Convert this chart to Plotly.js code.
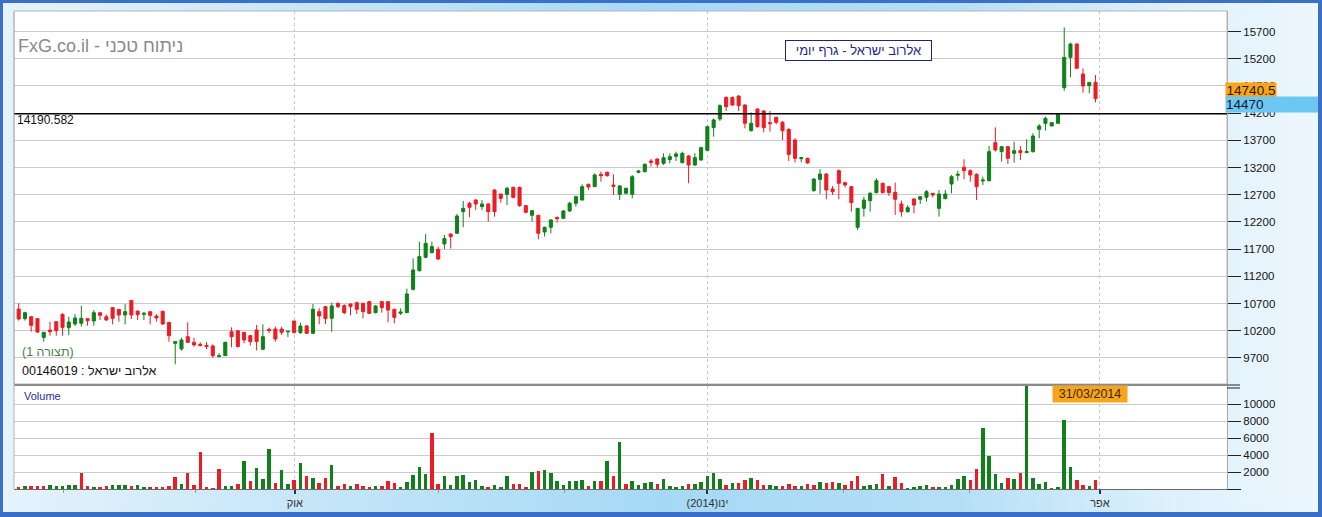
<!DOCTYPE html>
<html><head><meta charset="utf-8">
<script src="https://cdn.plot.ly/plotly-3.0.1.min.js"></script>
<style>
html,body{margin:0;padding:0;background:#fff;}
#chart{position:absolute;left:0;top:0;width:1322px;height:517px;
background:linear-gradient(to right,#e6f3fc 0%,#c4e5f8 25%,#a6d9f5 50%,#b4def6 72%,#dcf0fb 88%,#eef7fe 100%);}
#frame{position:absolute;left:0;top:0;width:1322px;height:517px;box-sizing:border-box;border:3px solid #3a70c8;border-bottom-width:5px;border-right-width:4px;pointer-events:none;z-index:5;}
</style></head>
<body><div id="chart"></div><div id="frame"></div>
<script>
// ---- data (daily candles, oldest first) ----
const openP = [10599,10422,10458,10422,10078,10213,10366,10501,10256,10324,10336,10422,10379,10532,10458,10624,10593,10489,10758,10563,10501,10550,10470,10556,10354,9969,9865,10091,9987,9950,9930,9920,9725,9742,10183,10201,10171,10110,10214,9858,10226,10232,10232,10180,
10379,10165,10287,10153,10551,10643,10428,10704,10661,10692,10716,10704,10735,10532,10735,10735,10594,10520,10532,10961,11304,11550,11635,11697,11795,11978,11991,12389,12542,12603,12481,12530,12787,12714,12707,12836,12836,12499,12322,12322,12015,12101,12285,12266,
12401,12542,12603,12891,12848,13075,13112,12879,12707,12726,12707,13112,13124,13320,13357,13277,13345,13406,13289,13412,13246,13338,13516,13933,14092,14490,14490,14515,14349,13878,14276,14239,14025,14123,14031,13902,13706,13363,13369,
12775,12983,13081,12806,13142,12922,12848,12101,12450,12591,12738,12910,12848,12744,12530,12389,12622,12616,12652,12726,12450,12628,12897,13057,13204,13142,13075,12953,12959,13657,13492,13583,13461,13510,13473,13492,13902,14012,13963,14012,
14667,15225,15470,14918,14704,14765];
const highP = [10704,10550,10470,10430,10180,10366,10379,10520,10458,10507,10655,10422,10581,10532,10501,10636,10593,10691,10758,10563,10544,10563,10507,10569,10354,10012,10073,10355,10073,9987,9990,9950,9785,9999,10263,10201,10171,10110,10306,10318,10257,10275,10275,10195,
10385,10349,10306,10692,10612,10655,10716,10716,10686,10704,10735,10716,10747,10673,10747,10747,10594,10612,10974,11531,11837,11978,11837,11746,11960,11991,12346,12585,12573,12616,12603,12542,12800,12714,12848,12848,12848,12511,12420,12328,12113,12248,12297,12419,
12572,12683,12891,12904,13093,13124,13124,13075,12879,12830,13063,13155,13277,13357,13369,13461,13461,13492,13492,13431,13461,13583,13970,14104,14362,14503,14503,14521,14362,14214,14288,14257,14239,14135,14055,13920,13737,13381,13381,
13002,13167,13093,12861,13167,12940,12848,12450,12664,12756,13002,12922,12861,12922,12591,12511,12634,12677,12787,12726,12787,12787,13063,13142,13351,13167,13093,13032,13596,13939,13596,13596,13675,13596,13718,13829,14000,14135,14025,14196,
15776,15494,15482,15023,14765,14900];
const lowP = [10385,10385,10183,10164,9999,10109,10109,10109,10121,10287,10274,10293,10293,10397,10385,10317,10366,10317,10415,10397,10397,10317,10366,10311,9999,9583,9834,9987,9908,9914,9860,9705,9712,9742,9895,9895,9969,9926,9840,9858,10153,9999,10122,10085,
10153,10140,10140,10140,10318,10324,10183,10612,10502,10483,10508,10428,10508,10520,10532,10355,10336,10490,10532,10937,11286,11531,11623,11500,11703,11709,11978,12101,12285,12420,12420,12205,12297,12554,12511,12634,12481,12358,12205,11880,11929,11991,12187,12254,
12389,12481,12591,12787,12848,12940,13032,12695,12603,12707,12634,13093,13112,13216,13198,13247,13277,13320,13277,12910,13234,13326,13504,13767,14055,14239,14331,14239,13920,13859,13933,13847,13859,13994,13706,13320,13295,13295,13271,
12756,12714,12616,12695,12616,12836,12389,12052,12297,12389,12726,12726,12677,12328,12297,12370,12358,12530,12573,12652,12297,12616,12726,12959,12983,12940,12603,12879,12940,13492,13308,13265,13290,13339,13473,13473,13737,13878,13963,14012,
14612,14857,15023,14575,14563,14398];
const closeP = [10416,10532,10299,10176,10170,10182,10201,10262,10360,10434,10428,10385,10532,10483,10397,10428,10489,10550,10489,10495,10520,10483,10434,10324,10109,10000,10030,9987,9938,9926,9910,9742,9738,9987,10091,9908,10030,10000,10000,10091,10202,10048,10171,10190,
10165,10287,10153,10594,10471,10422,10655,10643,10532,10643,10594,10551,10520,10655,10624,10581,10447,10545,10876,11317,11562,11807,11746,11519,11893,11929,12309,12450,12468,12530,12530,12389,12389,12634,12818,12652,12499,12377,12407,11991,12101,12236,12260,12401,
12542,12664,12848,12842,13063,13050,13050,12854,12860,12818,13032,13136,13259,13295,13259,13381,13400,13449,13461,13246,13381,13565,13951,14074,14337,14319,14349,14337,14012,14012,13951,13933,14006,14031,13877,13442,13369,13381,13283,
12989,13081,12787,12756,12910,12879,12554,12450,12603,12726,12959,12738,12738,12616,12389,12462,12511,12664,12756,12695,12714,12714,13032,13075,13142,13063,12848,12971,13492,13522,13583,13369,13510,13473,13492,13780,13963,14104,14025,14184,
15225,15470,15023,14698,14765,14470];
const volume = [250,400,400,300,400,480,300,400,500,500,1900,400,280,280,400,500,500,500,300,500,280,280,280,240,300,1380,630,1900,500,4300,280,160,2400,400,400,630,3350,1000,2500,1220,4650,750,2290,630,
1100,3100,1580,1340,750,1340,2880,400,630,400,630,400,280,400,400,1000,750,280,870,1700,2600,1800,6560,630,1580,500,1580,1700,870,1100,400,280,500,280,1580,630,630,280,2050,2170,2290,1900,1000,500,
1000,1000,1100,400,1000,1000,3240,1580,5490,630,1000,500,750,870,590,1180,350,240,350,590,590,820,1530,1880,1180,470,700,700,1060,1290,1060,470,470,350,350,590,350,350,590,470,
820,700,820,700,470,940,1530,350,470,590,1760,350,1410,700,120,240,350,470,240,240,240,470,1180,1530,1060,2350,7170,3880,1760,700,1290,1180,1880,13000,1290,590,820,120,240,
8110,2590,1060,470,350,1060];
const refLevel = 14190.582;
const lastLabel = '14740.5';
const closeLabel = '14470';
const dateLabel = '31/03/2014';
const majorTickPos = [44.1, 110, 172.7];          // trading-day index of quarter starts
const majorTickText = ['אוק', '(2014)ינו', 'אפר'];
const minorTickPos = [7.1, 28.2, 67.1, 87.1, 131.8, 151.8];
const priceTicks = [9700,10200,10700,11200,11700,12200,12700,13200,13700,14200,14700,15200,15700];
const volTicks = [0,2000,4000,6000,8000,10000];

// ---- drawing ----
const GREEN = '#10801a', RED = '#ec1c24';
const idx = closeP.map((_, i) => i);
const volColors = closeP.map((c, i) => {
  const prev = i === 0 ? openP[0] : closeP[i - 1];
  return c >= prev ? GREEN : RED;
});
const L = 14, R = 1227, T = 11, B = 489;
const fx = px => (px - L) / (R - L);
const fy = py => (B - py) / (B - T);
const FONT = 'Liberation Sans, Arial, DejaVu Sans, sans-serif';

const traces = [
  {type: 'candlestick', x: idx, open: openP, high: highP, low: lowP, close: closeP,
   xaxis: 'x', yaxis: 'y', whiskerwidth: 0, hoverinfo: 'skip',
   increasing: {line: {color: GREEN, width: 1}, fillcolor: GREEN},
   decreasing: {line: {color: RED, width: 1}, fillcolor: RED}},
  {type: 'bar', x: idx, y: volume, xaxis: 'x', yaxis: 'y2', width: 0.56,
   marker: {color: volColors, line: {width: 0}}, hoverinfo: 'skip'}
];

const axFont = {family: FONT, size: 11.5, color: '#151515'};
const layout = {
  width: 1322, height: 517,
  margin: {l: L, r: 1322 - R, t: T, b: 517 - B, pad: 0},
  paper_bgcolor: 'rgba(0,0,0,0)', plot_bgcolor: '#ffffff',
  showlegend: false, bargap: 0,
  xaxis: {domain: [0, 1], anchor: 'y2', range: [-0.75, 193], rangeslider: {visible: false},
    tickmode: 'array', tickvals: majorTickPos, ticktext: majorTickText,
    ticks: 'outside', ticklen: 4, tickwidth: 2, tickcolor: '#333',
    showgrid: true, gridcolor: '#c6c6c6', griddash: 'dot', gridwidth: 1,
    minor: {tickmode: 'array', tickvals: minorTickPos, ticks: 'outside', ticklen: 3, tickwidth: 1, tickcolor: '#9a9a9a', showgrid: false},
    showline: true, linecolor: '#6a6a6a', linewidth: 1, zeroline: false, automargin: false,
    tickfont: {family: FONT, size: 11, color: '#333'}, fixedrange: true},
  yaxis: {domain: [fy(384), 1], anchor: 'x', side: 'right', range: [9221, 16077],
    tickmode: 'array', tickvals: priceTicks, ticktext: priceTicks.map(v => String(v)),
    ticks: 'outside', ticklen: 13, tickwidth: 1, tickcolor: '#222',
    showgrid: true, gridcolor: '#cbcbcb', gridwidth: 1, zeroline: false,
    showline: true, linecolor: '#a8a8a8', automargin: false, tickfont: axFont, fixedrange: true},
  yaxis2: {domain: [0, fy(386)], anchor: 'x', side: 'right', range: [0, 12118],
    tickmode: 'array', tickvals: volTicks, ticktext: volTicks.map(v => v === 0 ? '' : String(v)),
    ticks: 'outside', ticklen: 13, tickwidth: 1, tickcolor: '#222',
    showgrid: true, gridcolor: '#cbcbcb', gridwidth: 1, zeroline: false,
    showline: true, linecolor: '#a8a8a8', automargin: false, tickfont: axFont, fixedrange: true},
  shapes: [
    {type: 'rect', xref: 'paper', yref: 'paper', x0: 0, x1: 1, y0: fy(384), y1: 1, line: {color: '#b4b4b4', width: 1}, layer: 'above'},
    {type: 'line', xref: 'paper', yref: 'y', x0: 0, x1: 1, y0: refLevel, y1: refLevel, line: {color: '#000', width: 1.5}, layer: 'above'},
    {type: 'line', xref: 'paper', yref: 'paper', x0: 0, x1: 1, y0: fy(385), y1: fy(385), line: {color: '#8a8a8a', width: 2}, layer: 'above'},
    {type: 'line', xref: 'paper', yref: 'paper', x0: 1, x1: fx(1240), y0: fy(385), y1: fy(385), line: {color: '#222', width: 1}},
    {type: 'line', xref: 'paper', yref: 'paper', x0: 1, x1: fx(1240), y0: fy(388), y1: fy(388), line: {color: '#222', width: 1}},
    {type: 'line', xref: 'paper', yref: 'paper', x0: 0, x1: 0, y0: 0, y1: 1, line: {color: '#b4b4b4', width: 1}, layer: 'above'}
  ],
  annotations: [
    {xref: 'paper', yref: 'paper', x: fx(16), y: fy(46), xanchor: 'left', yanchor: 'middle', showarrow: false,
     text: 'FxG.co.il - ניתוח טכני', font: {family: FONT, size: 18, color: '#8a8a8a'}},
    {xref: 'paper', yref: 'paper', x: fx(858), y: fy(50), xanchor: 'center', yanchor: 'middle', showarrow: false,
     text: 'אלרוב ישראל - גרף יומי', font: {family: FONT, size: 13, color: '#1f1f8f'},
     bgcolor: '#ffffff', bordercolor: '#1f1f8f', borderwidth: 1, borderpad: 2, width: 141},
    {xref: 'paper', yref: 'paper', x: fx(15), y: fy(120), xanchor: 'left', yanchor: 'middle', showarrow: false,
     text: refLevel.toFixed(3), font: {family: FONT, size: 12, color: '#111'}},
    {xref: 'paper', yref: 'paper', x: fx(20), y: fy(352), xanchor: 'left', yanchor: 'middle', showarrow: false,
     text: '(תצורה 1)', font: {family: FONT, size: 12.5, color: '#4f7c4f'}},
    {xref: 'paper', yref: 'paper', x: fx(20), y: fy(371), xanchor: 'left', yanchor: 'middle', showarrow: false,
     text: '00146019 : אלרוב ישראל', font: {family: FONT, size: 12.5, color: '#111'}},
    {xref: 'paper', yref: 'paper', x: fx(22), y: fy(396), xanchor: 'left', yanchor: 'middle', showarrow: false,
     text: 'Volume', font: {family: FONT, size: 11, color: '#2a2aa0'}},
    {xref: 'paper', yref: 'paper', x: fx(1090), y: fy(393.5), xanchor: 'center', yanchor: 'middle', showarrow: false,
     text: dateLabel, font: {family: FONT, size: 12.5, color: '#3a2800'}, bgcolor: '#f7a51e', borderpad: 1, width: 72},
    {xref: 'paper', yref: 'paper', x: fx(1225), y: fy(90.5), xanchor: 'left', yanchor: 'middle', showarrow: false,
     text: lastLabel, font: {family: FONT, size: 13.5, color: '#2a1e00'}, bgcolor: '#f7a51e', borderpad: 0, width: 50, align: 'center'},
    {xref: 'paper', yref: 'paper', x: fx(1225), y: fy(104.5), xanchor: 'left', yanchor: 'middle', showarrow: false,
     text: closeLabel, font: {family: FONT, size: 13.5, color: '#141430'}, bgcolor: '#6cc7f2', borderpad: 0, width: 93, align: 'left'}
  ]
};

Plotly.newPlot('chart', traces, layout, {staticPlot: true, displayModeBar: false});
</script>
</body></html>
